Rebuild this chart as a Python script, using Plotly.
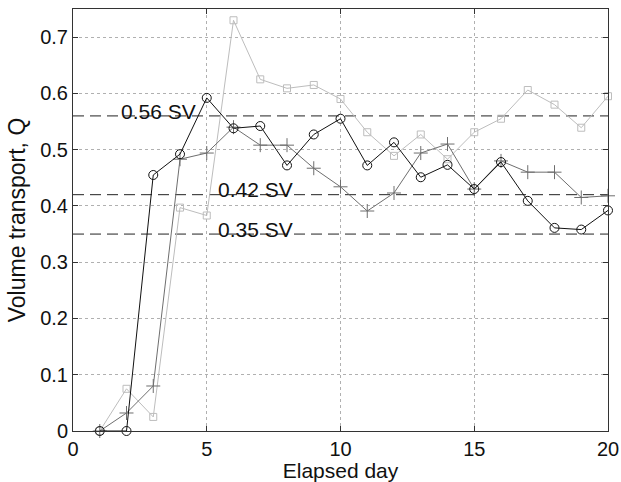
import plotly.graph_objects as go

days = list(range(1, 21))
q_circle = [0, 0, 0.455, 0.492, 0.592, 0.538, 0.542, 0.472, 0.527, 0.555,
            0.472, 0.513, 0.451, 0.473, 0.430, 0.478, 0.409, 0.361, 0.358, 0.392]
q_plus = [0, 0.032, 0.080, 0.483, 0.494, 0.540, 0.508, 0.508, 0.467, 0.434,
          0.391, 0.423, 0.494, 0.510, 0.430, 0.480, 0.460, 0.460, 0.415, 0.418]
q_square = [0, 0.075, 0.025, 0.397, 0.383, 0.730, 0.625, 0.609, 0.615, 0.590,
            0.531, 0.489, 0.527, 0.483, 0.531, 0.555, 0.606, 0.580, 0.539, 0.595]

ref_levels = [0.56, 0.42, 0.35]
ref_labels = ["0.56 SV", "0.42 SV", "0.35 SV"]
label_x = [1.72, 5.33, 5.33]
label_y = [0.568, 0.429, 0.359]

x_range = [0, 20]
y_range = [0, 0.75]

FONT = "Liberation Sans, Arial, Helvetica, sans-serif"

fig = go.Figure()

for lvl in ref_levels:
    fig.add_trace(go.Scatter(
        x=x_range, y=[lvl, lvl], mode="lines",
        line=dict(color="#222222", width=1, dash="11px,6px"),
        showlegend=False, hoverinfo="skip"))

fig.add_trace(go.Scatter(
    x=days, y=q_square, mode="lines+markers",
    line=dict(color="#bdbdbd", width=1),
    marker=dict(symbol="square-open", size=7, color="#bdbdbd",
                line=dict(color="#bdbdbd", width=1)),
    cliponaxis=False, showlegend=False))

fig.add_trace(go.Scatter(
    x=days, y=q_plus, mode="lines+markers",
    line=dict(color="#6e6e6e", width=1),
    marker=dict(symbol="cross-thin-open", size=10, color="#6e6e6e",
                line=dict(color="#6e6e6e", width=1)),
    cliponaxis=False, showlegend=False))

fig.add_trace(go.Scatter(
    x=days, y=q_circle, mode="lines+markers",
    line=dict(color="#111111", width=1),
    marker=dict(symbol="circle-open", size=9, color="#111111",
                line=dict(color="#111111", width=1)),
    cliponaxis=False, showlegend=False))

for txt, lx, ly in zip(ref_labels, label_x, label_y):
    fig.add_annotation(x=lx, y=ly, text=txt, showarrow=False,
                       xanchor="left", yanchor="middle",
                       font=dict(family=FONT, size=21, color="#111111"))

axis_common = dict(
    showline=True, linecolor="#333333", linewidth=1, mirror="allticks",
    ticks="inside", ticklen=5, tickcolor="#333333",
    showgrid=True, gridcolor="#b0b0b0", gridwidth=1, griddash="dot",
    zeroline=False, automargin=False,
    tickfont=dict(family=FONT, size=20, color="#111111"),
)

fig.update_xaxes(range=x_range, tickvals=[0, 5, 10, 15, 20],
                 title=dict(text="Elapsed day", standoff=0,
                            font=dict(family=FONT, size=21, color="#111111")),
                 **axis_common)
fig.update_yaxes(range=y_range, tickvals=[0, 0.1, 0.2, 0.3, 0.4, 0.5, 0.6, 0.7],
                 ticktext=["0", "0.1", "0.2", "0.3", "0.4", "0.5", "0.6", "0.7"],
                 title=dict(text="Volume transport, Q", standoff=8,
                            font=dict(family=FONT, size=23, color="#111111")),
                 **axis_common)

fig.update_layout(
    width=621, height=482,
    margin=dict(l=73, r=13, t=9, b=51),
    plot_bgcolor="white", paper_bgcolor="white",
)

fig.write_html("out.html")
